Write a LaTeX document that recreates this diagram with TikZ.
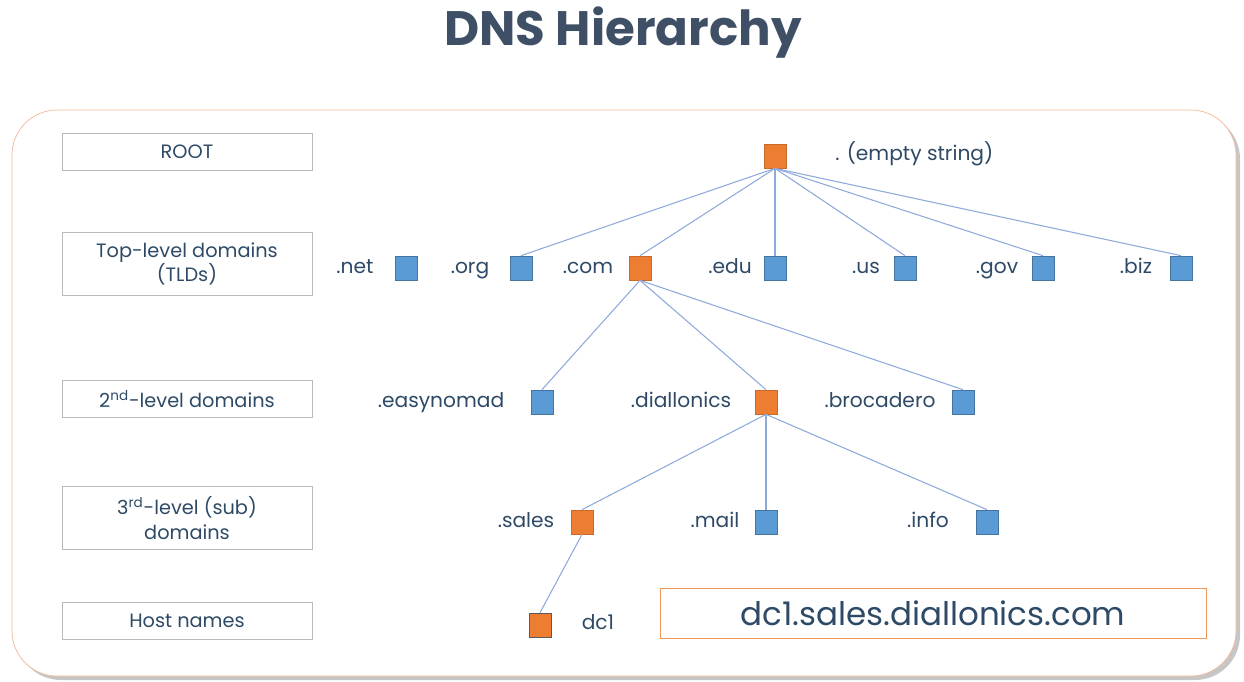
\documentclass[tikz,border=0pt]{standalone}
\usepackage{fontspec}
\setmainfont{Poppins}
\usetikzlibrary{positioning}
\definecolor{dnsorange}{HTML}{ED7D31}
\definecolor{dnsblue}{HTML}{5B9BD5}
\definecolor{dnsline}{HTML}{8EA9DB}
\definecolor{dnstext}{HTML}{2E4A66}
\definecolor{dnstitle}{HTML}{3E4F66}
\definecolor{dnsframe}{HTML}{F4B89A}
\begin{document}
\begin{tikzpicture}[x=0.02cm,y=-0.02cm,
  level/.style={draw=gray!55, fill=white, minimum width=5cm, minimum height=0.74cm,
    text=dnstext, font=\fontsize{11}{14}\selectfont, align=center, inner sep=0pt},
  leaf/.style={draw=dnsblue!75!black, fill=dnsblue, minimum width=0.44cm,
    minimum height=0.48cm, inner sep=0pt, line width=0.4pt},
  dom/.style={leaf, fill=dnsorange, draw=dnsorange!85!black},
  lbl/.style={text=dnstext, font=\fontsize{11.5}{14}\selectfont, inner sep=0pt, anchor=base},
  link/.style={draw=dnsline, line width=0.6pt}]
\useasboundingbox (0,0) rectangle (1244,681);
% frame
\fill[gray!45, rounded corners=0.9cm] (16,114) rectangle (1240,680);
\draw[dnsframe, fill=white, rounded corners=0.9cm] (12,110) rectangle (1236,676);
\node[text=dnstitle, font=\fontsize{27.5}{32}\selectfont\bfseries] (title) at (623,33) {DNS Hierarchy};
% levels on the left
\node[level] (lroot) at (187,152) {ROOT};
\node[level, minimum height=1.26cm] (ltld) at (187,264) {Top-level domains\\(TLDs)};
\node[level] (lsnd) at (187,399) {2\textsuperscript{nd}-level domains};
\node[level, minimum height=1.26cm] (lthd) at (187,518) {3\textsuperscript{rd}-level (sub)\\domains};
\node[level] (lhost) at (187,621) {Host names};
% root
\node[dom] (root) at (775,156) {};
\node[lbl, anchor=base west] (troot) at (835,160) {. (empty string)};
% top-level
\node[leaf] (net) at (406,268) {};
\node[leaf] (org) at (521,268) {};
\node[dom]  (com) at (640,268) {};
\node[leaf] (edu) at (775,268) {};
\node[leaf] (us)  at (905,268) {};
\node[leaf] (gov) at (1043,268) {};
\node[leaf] (biz) at (1181,268) {};
\node[lbl] (tnet) at (355,273) {.net};
\node[lbl] (torg) at (470,273) {.org};
\node[lbl] (tcom) at (588,273) {.com};
\node[lbl] (tedu) at (730,273) {.edu};
\node[lbl] (tus)  at (866,273) {.us};
\node[lbl] (tgov) at (997,273) {.gov};
\node[lbl] (tbiz) at (1136,273) {.biz};
% second level
\node[leaf] (easy) at (542,402) {};
\node[dom]  (dial) at (766,402) {};
\node[leaf] (broc) at (963,402) {};
\node[lbl] (teasy) at (441,407) {.easynomad};
\node[lbl] (tdial) at (681,407) {.diallonics};
\node[lbl] (tbroc) at (880,407) {.brocadero};
% third level
\node[dom]  (sales) at (582,522) {};
\node[leaf] (mail)  at (766,522) {};
\node[leaf] (info)  at (987,522) {};
\node[lbl] (tsales) at (526,527) {.sales};
\node[lbl] (tmail)  at (715,527) {.mail};
\node[lbl] (tinfo)  at (928,527) {.info};
% host
\node[dom, draw=gray!70!black] (dc) at (540,625) {};
\node[lbl] (tdc) at (598,629) {dc1};
\node[draw=dnsorange!80, text=dnstext, minimum width=10.92cm, minimum height=1cm,
  font=\fontsize{18.5}{22}\selectfont, inner sep=0pt] (fqdn) at (933,613) {dc1.sales.diallonics.com};
% links
\foreach \k in {org,com,edu,us,gov,biz}
  \draw[link] (root.south) -- (\k.north);
\foreach \k in {easy,dial,broc}
  \draw[link] (com.south) -- (\k.north);
\foreach \k in {sales,mail,info}
  \draw[link] (dial.south) -- (\k.north);
\draw[link] (sales.south) -- (dc.north);
\end{tikzpicture}
\end{document}
